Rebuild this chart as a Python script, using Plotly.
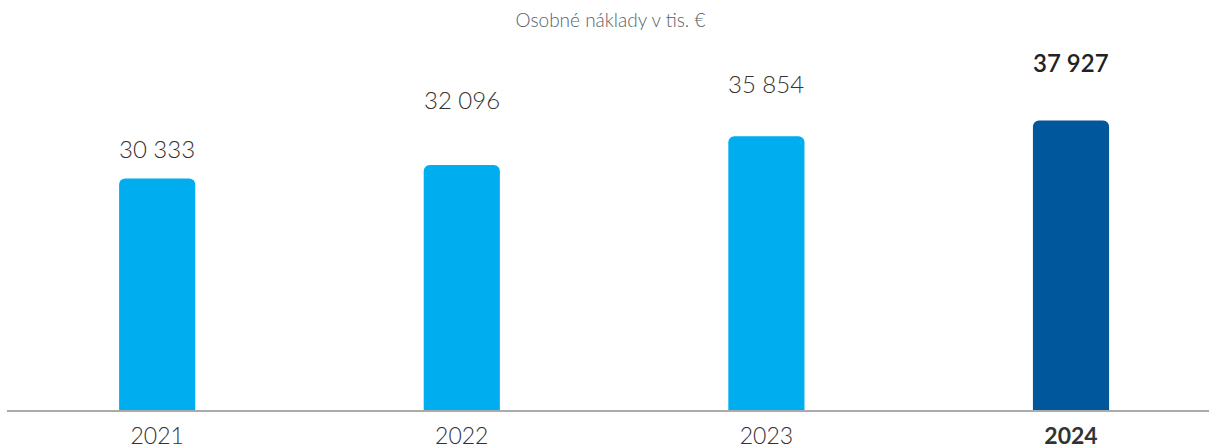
import plotly.graph_objects as go

years = ["2021", "2022", "2023", "2024"]
values = [30333, 32096, 35854, 37927]
value_labels = ["30 333", "32 096", "35 854", "37 927"]
title_text = "Osobné náklady v tis. €"

# style lists (not data)
bar_colors = ["#00AEEF", "#00AEEF", "#00AEEF", "#00579B"]
label_shift = [13, 49, 36, 41]

fig = go.Figure()
fig.add_trace(go.Bar(
    x=list(range(len(years))), y=values,
    marker=dict(color=bar_colors, line=dict(width=0), cornerradius=6),
    width=0.25, hoverinfo="skip",
))

for i, (v, lab) in enumerate(zip(values, value_labels)):
    bold = i == len(values) - 1
    fig.add_annotation(
        x=i, y=v, text=lab, showarrow=False, yanchor="bottom",
        yshift=label_shift[i],
        font=dict(family="Lato", size=24, color="#222222" if bold else "#333333",
                  weight=600 if bold else 300),
    )

ticktext = [("<b>%s</b>" % y) if i == len(years) - 1 else y for i, y in enumerate(years)]

fig.update_layout(
    width=1209, height=448,
    margin=dict(l=7, r=0, t=40, b=38),
    paper_bgcolor="white", plot_bgcolor="white",
    showlegend=False,
    title=dict(text=title_text, x=0.505, xanchor="center", y=0.955, yanchor="middle",
               font=dict(family="Lato", size=19, color="#56626C", weight=300)),
    xaxis=dict(
        range=[-0.493, 3.453], tickvals=list(range(len(years))), ticktext=ticktext,
        showline=True, linecolor="#AAAAAA", linewidth=2, showgrid=False, zeroline=False,
        ticks="", ticklabelstandoff=4, automargin=False,
        tickfont=dict(family="Lato", size=23, color="#333333", weight=300),
    ),
    yaxis=dict(range=[0, 48470], visible=False, showgrid=False, zeroline=False,
               automargin=False),
)

fig.write_html("out.html", config={"displayModeBar": False},
               post_script="document.body.style.margin='0';document.body.style.overflow='hidden';")
